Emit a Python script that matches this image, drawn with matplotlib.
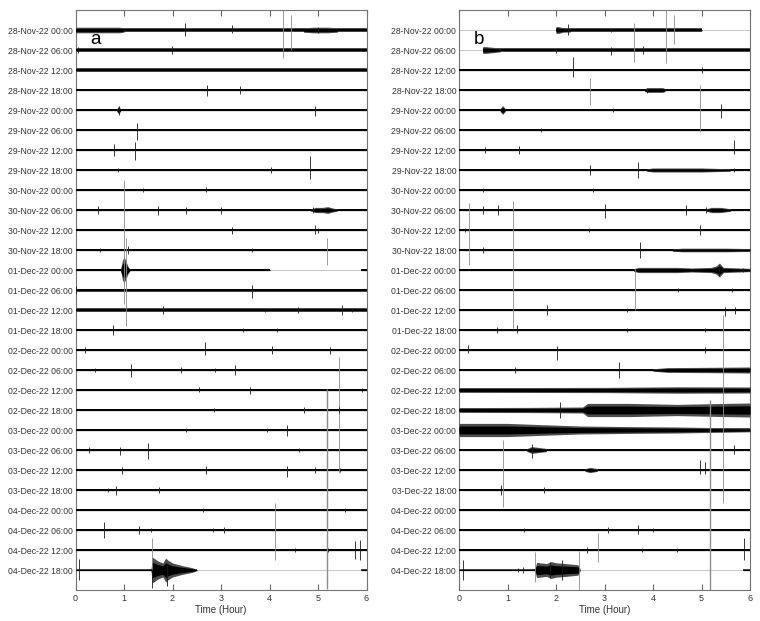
import matplotlib
matplotlib.use("Agg")
import matplotlib.pyplot as plt

plt.rcParams['font.family'] = ['Liberation Sans', 'DejaVu Sans']

# row labels (one trace every 6 hours)
days = ["28-Nov-22", "29-Nov-22", "30-Nov-22", "01-Dec-22",
        "02-Dec-22", "03-Dec-22", "04-Dec-22"]
hours_of_day = ["00:00", "06:00", "12:00", "18:00"]
row_labels = [d + " " + h for d in days for h in hours_of_day]

# background noise half-amplitude per row (in row spacings)
noise_a = [0.11, 0.1, 0.08, 0.065, 0.06, 0.065, 0.06, 0.05, 0.045, 0.05,
           0.05, 0.055, 0.06, 0.075, 0.08, 0.06, 0.055, 0.05, 0.055, 0.055,
           0.06, 0.065, 0.065, 0.055, 0.06, 0.06, 0.045, 0.03]
noise_b = [0.1, 0.09, 0.065, 0.06, 0.06, 0.06, 0.055, 0.055, 0.05, 0.055,
           0.055, 0.06, 0.06, 0.07, 0.07, 0.055, 0.055, 0.06, 0.12, 0.12,
           0.1, 0.07, 0.07, 0.07, 0.07, 0.06, 0.055, 0.035]

# missing data: (row, start hour, end hour)
gaps_a = [(12, 4.0, 5.88), (27, 2.5, 5.88)]
gaps_b = [(0, 0.0, 2.0), (0, 5.0, 6.0), (1, 0.0, 0.49), (27, 2.49, 5.86)]

# emergent signals: (row, hours, half-amplitudes)
bursts_a = [
    (0, [0.0, 0.9, 1.0], [0.14, 0.14, 0.11]),
    (0, [4.7, 4.9, 5.2, 5.4], [0.11, 0.14, 0.14, 0.11]),
    (4, [0.85, 0.89, 0.93], [0.06, 0.2, 0.06]),
    (9, [4.85, 4.95, 5.1, 5.2, 5.3, 5.4], [0.05, 0.13, 0.13, 0.17, 0.1, 0.05]),
    (12, [0.93, 0.97, 1.0, 1.03, 1.08, 1.12], [0.05, 0.5, 0.65, 0.5, 0.2, 0.05]),
    (27, [1.56, 1.58, 1.7, 1.8, 1.86, 1.9, 2.0, 2.2, 2.4, 2.49],
     [0.05, 0.65, 0.45, 0.35, 0.6, 0.5, 0.35, 0.22, 0.12, 0.04]),
]
bursts_b = [
    (0, [2.0, 2.05, 2.15, 2.3], [0.17, 0.17, 0.11, 0.1]),
    (1, [0.49, 0.55, 0.75, 0.85], [0.17, 0.17, 0.12, 0.09]),
    (3, [3.83, 3.9, 4.2, 4.25], [0.08, 0.12, 0.12, 0.07]),
    (4, [0.85, 0.9, 0.95], [0.08, 0.22, 0.08]),
    (7, [3.87, 4.0, 5.0, 5.59], [0.06, 0.1, 0.1, 0.06]),
    (9, [5.1, 5.2, 5.4, 5.6], [0.06, 0.13, 0.13, 0.06]),
    (11, [4.4, 4.6, 5.5, 6.0], [0.06, 0.09, 0.09, 0.07]),
    (12, [3.6, 3.7, 4.5, 4.8, 5.2, 5.3, 5.37, 5.45, 6.0],
     [0.06, 0.13, 0.13, 0.1, 0.13, 0.2, 0.35, 0.13, 0.08]),
    (17, [4.0, 4.3, 5.0, 6.0], [0.06, 0.12, 0.13, 0.15]),
    (18, [0.0, 3.0, 4.5, 6.0], [0.12, 0.13, 0.16, 0.15]),
    (19, [0.0, 1.5, 2.55, 2.65, 3.5, 4.5, 5.5, 6.0],
     [0.12, 0.13, 0.15, 0.33, 0.33, 0.28, 0.33, 0.35]),
    (20, [0.0, 1.0, 1.67, 2.5, 3.5, 4.5, 5.5, 6.0],
     [0.33, 0.33, 0.27, 0.2, 0.17, 0.15, 0.11, 0.09]),
    (21, [1.4, 1.5, 1.8], [0.07, 0.17, 0.08]),
    (22, [2.6, 2.7, 2.85], [0.07, 0.13, 0.07]),
    (27, [1.57, 1.6, 1.8, 1.9, 2.0, 2.2, 2.45, 2.49],
     [0.1, 0.38, 0.32, 0.42, 0.36, 0.32, 0.26, 0.1]),
]

# transient spikes: (row, hour, up, down)
spikes_a = [
    (0, 2.25, 0.35, 0.3), (0, 3.23, 0.25, 0.15), (0, 4.27, 1.0, 1.4),
    (0, 4.44, 0.75, 1.0), (0, 5.0, 0.15, 0.15),
    (1, 1.98, 0.2, 0.2), (1, 0.05, 0.15, 0.15),
    (3, 2.71, 0.25, 0.3), (3, 3.39, 0.18, 0.18),
    (4, 0.89, 0.22, 0.25), (4, 4.93, 0.2, 0.3),
    (5, 1.27, 0.35, 0.5),
    (6, 0.8, 0.3, 0.3), (6, 1.22, 0.4, 0.5),
    (7, 0.87, 0.12, 0.12), (7, 4.04, 0.15, 0.15), (7, 4.83, 0.7, 0.45),
    (8, 1.4, 0.1, 0.1), (8, 2.7, 0.15, 0.1),
    (9, 0.46, 0.2, 0.2), (9, 1.71, 0.2, 0.25), (9, 2.27, 0.15, 0.2),
    (9, 2.99, 0.15, 0.2), (9, 4.9, 0.15, 0.15),
    (10, 3.23, 0.15, 0.2), (10, 4.93, 0.25, 0.2), (10, 5.0, 0.1, 0.15),
    (11, 0.5, 0.1, 0.1), (11, 1.08, 0.2, 0.2), (11, 3.63, 0.1, 0.1),
    (11, 5.18, 0.6, 0.75),
    (12, 1.0, 4.5, 1.7), (12, 1.05, 1.6, 2.8),
    (13, 3.63, 0.25, 0.4), (13, 0.0, 0.2, 0.2),
    (14, 1.8, 0.2, 0.2), (14, 3.9, 0.1, 0.1), (14, 4.58, 0.15, 0.15),
    (14, 5.5, 0.25, 0.25), (14, 5.7, 0.12, 0.12),
    (15, 0.77, 0.25, 0.25), (15, 3.45, 0.1, 0.1), (15, 4.15, 0.1, 0.1),
    (16, 0.2, 0.15, 0.15), (16, 2.66, 0.4, 0.25), (16, 4.06, 0.2, 0.2),
    (16, 5.24, 0.15, 0.2),
    (17, 0.4, 0.1, 0.1), (17, 1.15, 0.3, 0.35), (17, 2.18, 0.15, 0.15),
    (17, 2.88, 0.1, 0.1), (17, 3.28, 0.25, 0.25), (17, 5.44, 0.65, 5.15),
    (18, 2.54, 0.15, 0.12), (18, 3.59, 0.15, 0.2), (18, 5.18, 0.05, 9.95),
    (18, 5.9, 0.1, 0.1),
    (19, 2.85, 0.1, 0.1), (19, 4.71, 0.15, 0.15), (19, 5.44, 0.15, 0.15),
    (20, 2.28, 0.1, 0.1), (20, 3.94, 0.12, 0.12), (20, 4.36, 0.25, 0.3),
    (21, 0.28, 0.15, 0.15), (21, 0.92, 0.15, 0.25), (21, 1.49, 0.35, 0.45),
    (21, 4.6, 0.1, 0.1),
    (22, 0.96, 0.15, 0.2), (22, 2.7, 0.2, 0.2), (22, 4.36, 0.2, 0.35),
    (22, 4.93, 0.15, 0.15), (22, 5.45, 0.12, 0.12),
    (23, 0.83, 0.2, 0.25), (23, 1.73, 0.15, 0.15), (23, 0.68, 0.1, 0.1),
    (24, 2.62, 0.12, 0.12), (24, 5.55, 0.12, 0.12),
    (25, 0.59, 0.4, 0.4), (25, 1.3, 0.2, 0.2), (25, 1.55, 0.12, 0.12),
    (25, 2.83, 0.1, 0.1), (25, 3.07, 0.15, 0.15), (25, 4.11, 1.35, 1.5),
    (26, 1.57, 0.6, 1.0), (26, 4.53, 0.1, 0.1), (26, 5.2, 0.12, 0.12),
    (26, 5.77, 0.45, 0.45), (26, 5.86, 0.5, 0.5),
    (27, 0.07, 0.55, 0.5), (27, 1.58, 0.05, 0.9), (27, 1.88, 0.3, 0.8),
]
spikes_b = [
    (0, 2.25, 0.3, 0.25), (0, 3.13, 0.1, 0.1), (0, 3.61, 0.35, 1.6),
    (0, 4.27, 1.0, 1.65), (0, 4.44, 0.75, 0.7),
    (1, 2.0, 0.1, 0.15), (1, 3.13, 0.15, 0.25), (1, 3.8, 0.2, 0.2),
    (2, 2.36, 0.65, 0.35), (2, 5.0, 0.15, 0.15),
    (3, 2.7, 0.6, 0.75), (3, 3.87, 0.1, 0.15),
    (4, 3.17, 0.1, 0.1), (4, 4.96, 1.25, 1.1), (4, 5.4, 0.3, 0.4),
    (5, 1.7, 0.08, 0.08),
    (6, 0.53, 0.15, 0.15), (6, 1.24, 0.2, 0.2), (6, 5.68, 0.5, 0.2),
    (7, 2.71, 0.25, 0.25), (7, 3.7, 0.4, 0.4), (7, 5.68, 0.1, 0.1),
    (8, 0.5, 0.08, 0.08), (8, 2.76, 0.1, 0.1),
    (9, 0.21, 0.35, 2.75), (9, 0.49, 0.2, 0.2), (9, 0.81, 0.25, 0.25),
    (9, 1.12, 0.45, 5.9), (9, 3.0, 0.3, 0.4), (9, 4.68, 0.25, 0.25),
    (9, 5.1, 0.15, 0.15),
    (10, 0.12, 0.1, 0.1), (10, 2.68, 0.12, 0.12), (10, 4.96, 0.25, 0.25),
    (11, 0.5, 0.15, 0.15), (11, 3.73, 0.4, 0.4),
    (12, 3.62, 0.05, 2.0), (12, 5.37, 0.25, 0.3), (12, 5.85, 0.12, 0.12),
    (13, 4.52, 0.12, 0.12), (13, 5.63, 0.12, 0.12),
    (14, 1.81, 0.25, 0.25), (14, 3.46, 0.1, 0.1), (14, 5.48, 0.15, 0.3),
    (14, 5.69, 0.15, 0.2),
    (15, 0.78, 0.15, 0.15), (15, 1.19, 0.25, 0.15), (15, 3.46, 0.1, 0.1),
    (15, 5.07, 0.12, 0.12),
    (16, 0.19, 0.25, 0.15), (16, 2.03, 0.2, 0.5), (16, 5.07, 0.15, 0.15),
    (16, 5.45, 1.75, 7.65),
    (17, 1.15, 0.15, 0.15), (17, 3.29, 0.4, 0.4),
    (19, 2.08, 0.4, 0.4), (19, 5.18, 0.5, 9.0),
    (21, 0.91, 0.5, 2.85), (21, 1.5, 0.3, 0.4), (21, 5.68, 0.25, 0.2),
    (22, 4.96, 0.5, 0.2), (22, 5.07, 0.4, 0.2),
    (23, 0.86, 0.25, 0.25), (23, 1.76, 0.15, 0.15),
    (25, 1.33, 0.1, 0.1), (25, 3.08, 0.15, 0.15), (25, 3.7, 0.25, 0.2),
    (25, 4.0, 0.1, 0.1),
    (26, 2.63, 0.15, 0.15), (26, 2.87, 0.85, 0.6), (26, 3.78, 0.12, 0.12),
    (26, 4.5, 0.12, 0.12), (26, 5.88, 0.6, 0.5),
    (27, 0.08, 0.5, 0.5), (27, 1.22, 0.1, 0.1), (27, 1.32, 0.15, 0.15),
    (27, 1.57, 0.9, 0.6), (27, 1.88, 0.4, 0.4), (27, 2.12, 0.5, 0.5),
    (27, 2.48, 0.95, 1.0),
]


def data_segments(row, gaps):
    # split the 0-6 h window around missing data
    segs = [(0.0, 6.0)]
    for g_row, g0, g1 in gaps:
        if g_row != row:
            continue
        new = []
        for s, e in segs:
            if g0 > s:
                new.append((s, min(e, g0)))
            if g1 < e:
                new.append((max(s, g1), e))
        segs = new
    return segs


def band(ax, x, y0, amp, z):
    # grey envelope with a dark core, looks closer to a dense trace
    ax.fill_between(x, [y0 - a for a in amp], [y0 + a for a in amp],
                    color="0.3", lw=0, zorder=z)
    ax.fill_between(x, [y0 - 0.6 * a for a in amp], [y0 + 0.6 * a for a in amp],
                    color="black", lw=0, zorder=z + 0.5)


def draw_helicorder(ax, noise, gaps, bursts, spikes, letter):
    n = len(row_labels)
    for i in range(n):
        for s, e in data_segments(i, gaps):
            band(ax, [s, e], i, [noise[i]] * 2, 3)
            ax.plot([s, e], [i, i], color="black", lw=0.9, zorder=3.7,
                    solid_capstyle="butt")
    for row, hrs, amp in bursts:
        band(ax, hrs, row, amp, 4)
    for row, h, up, down in spikes:
        long_one = up + down > 1.2
        ax.vlines(h, row - up, row + down,
                  color="0.55" if long_one else "0.1",
                  lw=1.0 if down > 8 else 0.6, zorder=5)

    ax.set_xlim(0, 6)
    ax.set_ylim(n, -1)
    ax.set_yticks(range(n))
    ax.set_yticklabels(row_labels, fontsize=6.2, color="#333333")
    ax.tick_params(axis="y", length=0, pad=2)
    ax.set_xticks(range(7))
    ax.tick_params(axis="x", direction="in", top=True, length=4,
                   labelsize=6.5, labelcolor="#333333", color="0.4", pad=3)
    ax.grid(axis="y", color="0.78", lw=0.7, zorder=1)
    ax.set_axisbelow(True)
    for sp in ax.spines.values():
        sp.set_color("0.45")
        sp.set_linewidth(0.8)
    ax.set_xlabel("Time (Hour)", fontsize=7, color="#333333", labelpad=1)
    ax.text(0.3, 0.68, letter, fontsize=13.5, va="baseline", ha="left",
            zorder=6)


fig = plt.figure(figsize=(7.6, 6.21), dpi=100)
ax_a = fig.add_axes([75.5 / 760, 1 - 590 / 621, 291 / 760, 580 / 621])
ax_b = fig.add_axes([459 / 760, 1 - 590 / 621, 291 / 760, 580 / 621])

draw_helicorder(ax_a, noise_a, gaps_a, bursts_a, spikes_a, "a")
draw_helicorder(ax_b, noise_b, gaps_b, bursts_b, spikes_b, "b")

fig.savefig("out.png", dpi=100)
